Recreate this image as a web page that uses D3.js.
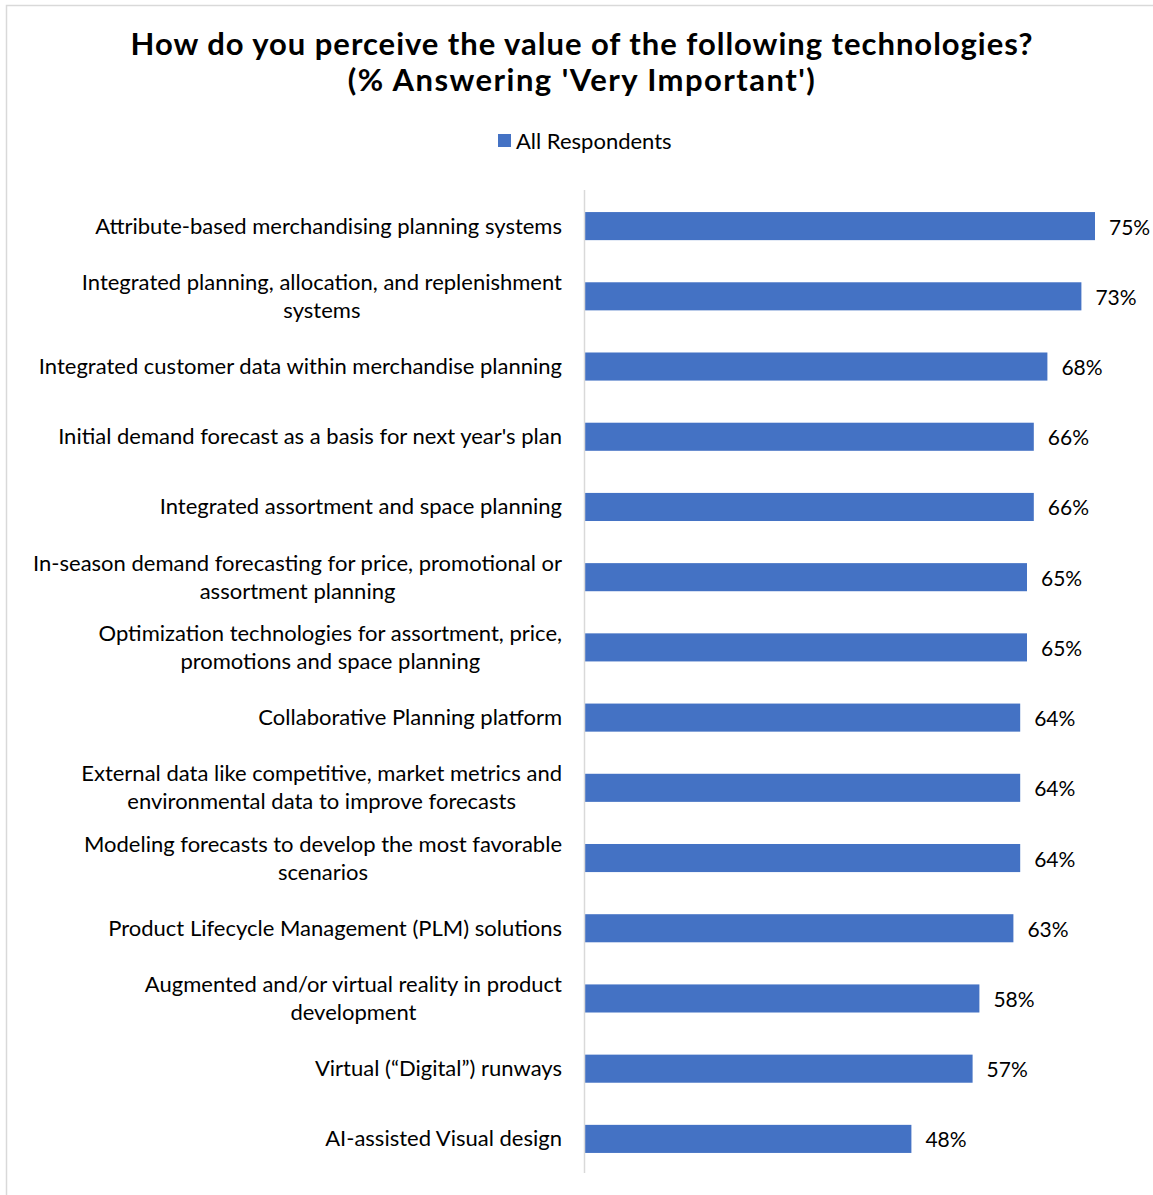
<!DOCTYPE html>
<html>
<head>
<meta charset="utf-8">
<script src="https://cdn.jsdelivr.net/npm/d3@7"></script>
<style>
  html, body { margin: 0; padding: 0; background: #fff; }
  svg { display: block; }
</style>
</head>
<body>
<svg id="chart" width="1153" height="1195"></svg>
<script>
// Technologies (top to bottom), each label split into its display lines
const categories = [
  ["Attribute-based merchandising planning systems"],
  ["Integrated planning, allocation, and replenishment", "systems"],
  ["Integrated customer data within merchandise planning"],
  ["Initial demand forecast as a basis for next year's plan"],
  ["Integrated assortment and space planning"],
  ["In-season demand forecasting for price, promotional or", "assortment planning"],
  ["Optimization technologies for assortment, price,", "promotions and space planning"],
  ["Collaborative Planning platform"],
  ["External data like competitive, market metrics and", "environmental data to improve forecasts"],
  ["Modeling forecasts to develop the most favorable", "scenarios"],
  ["Product Lifecycle Management (PLM) solutions"],
  ["Augmented and/or virtual reality in product", "development"],
  ["Virtual (\u201CDigital\u201D) runways"],
  ["AI-assisted Visual design"]
];

// % answering 'Very Important'
const allRespondents = [75, 73, 68, 66, 66, 65, 65, 64, 64, 64, 63, 58, 57, 48];

const seriesName = "All Respondents";
const titleLines = [
  "How do you perceive the value of the following technologies?",
  "(% Answering 'Very Important')"
];

const FONT = "Lato, 'Open Sans', sans-serif";
const BLUE = "#4472C4";
const LABEL_SIZE = 22;

const svg = d3.select("#chart");

// outer frame
svg.append("rect")
  .attr("x", 6.5).attr("y", 5.5)
  .attr("width", 1160).attr("height", 1200)
  .attr("fill", "none")
  .attr("stroke", "#d9d9d9")
  .attr("stroke-width", 1.5);

// title: two bold centred lines, widened slightly with letter spacing
const titleWidths = [902, 467];
titleLines.forEach((t, i) => {
  const el = svg.append("text")
    .attr("x", 582).attr("y", 55 + i * 36)
    .attr("text-anchor", "middle")
    .attr("font-family", FONT)
    .attr("font-weight", "bold")
    .attr("font-size", 31)
    .attr("fill", "#000")
    .text(t);
  const w = el.node().getComputedTextLength();
  const extra = (titleWidths[i] - w) / Math.max(1, t.length - 1);
  if (extra > 0) el.attr("letter-spacing", Math.min(extra, 2.5));
});

// legend
const legend = svg.append("g");
legend.append("rect")
  .attr("x", 498).attr("y", 134).attr("width", 13).attr("height", 13)
  .attr("fill", BLUE);
legend.append("text")
  .attr("x", 516).attr("y", 140)
  .attr("dominant-baseline", "central")
  .attr("font-family", FONT)
  .attr("font-size", LABEL_SIZE)
  .attr("fill", "#000")
  .text(seriesName);

// scales
const x = d3.scaleLinear().domain([0, 75]).range([585, 1095]);
const y = d3.scaleBand()
  .domain(d3.range(categories.length))
  .range([191, 1174])
  .paddingInner(0.6)
  .paddingOuter(0.3);

// bars
svg.append("g").selectAll("rect")
  .data(allRespondents)
  .join("rect")
  .attr("x", x(0))
  .attr("y", (d, i) => y(i))
  .attr("width", d => x(d) - x(0))
  .attr("height", y.bandwidth())
  .attr("fill", BLUE);

// category axis line
svg.append("line")
  .attr("x1", x(0) - 0.5).attr("x2", x(0) - 0.5)
  .attr("y1", 190).attr("y2", 1173)
  .attr("stroke", "#d9d9d9")
  .attr("stroke-width", 1.5);

// category labels: block right-aligned at the axis, lines centred within the block
const lineH = 28;
const labelRight = 562;
const labels = svg.append("g")
  .attr("font-family", FONT)
  .attr("font-size", LABEL_SIZE)
  .attr("fill", "#000");
categories.forEach((lines, i) => {
  const cy = y(i) + y.bandwidth() / 2 - 1.5;
  const t = labels.append("text")
    .attr("dominant-baseline", "central")
    .attr("text-anchor", "middle");
  const spans = lines.map((ln, j) =>
    t.append("tspan")
      .attr("y", cy + (j - (lines.length - 1) / 2) * lineH)
      .text(ln));
  const maxW = d3.max(spans, s => s.node().getComputedTextLength());
  spans.forEach(s => s.attr("x", labelRight - maxW / 2));
});

// value labels
svg.append("g")
  .attr("font-family", FONT)
  .attr("font-size", 21)
  .attr("fill", "#000")
  .selectAll("text")
  .data(allRespondents)
  .join("text")
  .attr("x", d => x(d) + 14)
  .attr("y", (d, i) => y(i) + y.bandwidth() / 2)
  .attr("dominant-baseline", "central")
  .text(d => d + "%");
</script>
</body>
</html>
